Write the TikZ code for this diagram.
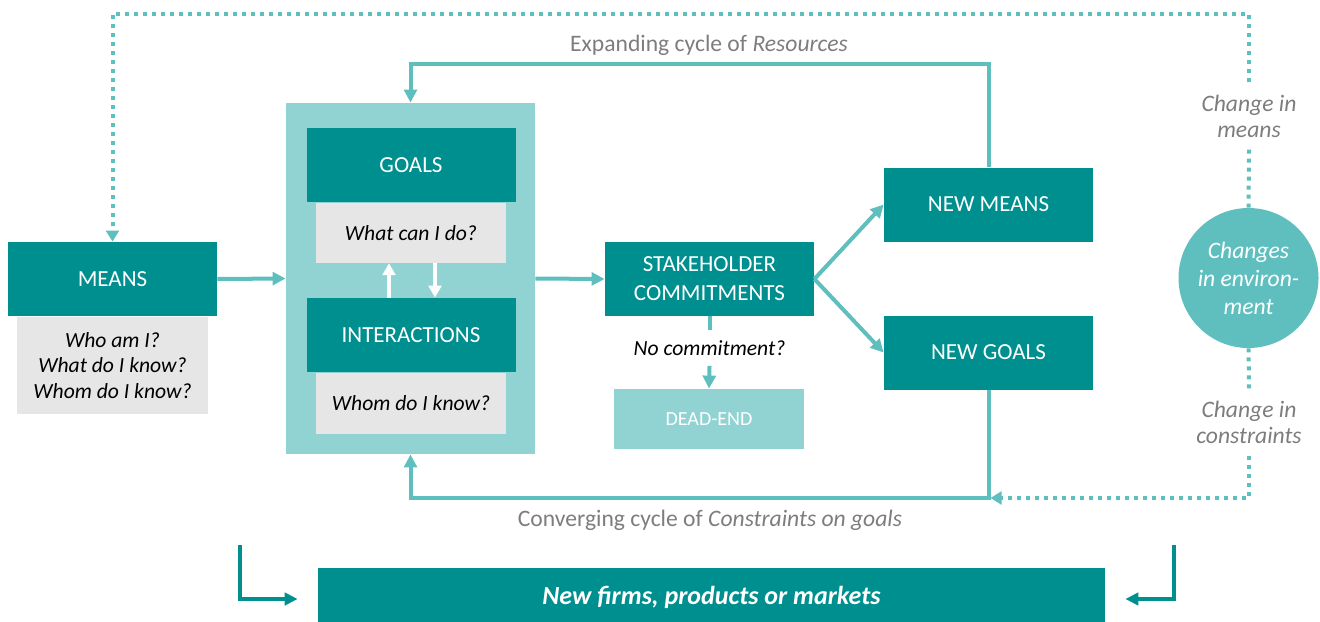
\documentclass[tikz,border=0pt]{standalone}
\usepackage{fontspec}
\setmainfont{Carlito}
\usepackage{xcolor}
\usetikzlibrary{arrows.meta,positioning}

\definecolor{deepteal}{RGB}{0,143,143}
\definecolor{midteal}{RGB}{95,191,191}
\definecolor{paleteal}{RGB}{145,211,211}
\definecolor{boxgrey}{RGB}{230,230,230}
\definecolor{labelgrey}{RGB}{125,125,125}

\tikzset{
  stage/.style={fill=deepteal,text=white,minimum width=104.5pt,minimum height=37pt,
    align=center,font=\fontsize{11.5}{14.5}\selectfont},
  query/.style={fill=boxgrey,text=black,minimum width=95pt,minimum height=30pt,
    align=center,font=\fontsize{10.8}{12.75}\selectfont\itshape},
  remark/.style={text=labelgrey,align=center,font=\fontsize{11.8}{13}\selectfont\itshape},
  flow/.style={draw=midteal,line width=2pt,-{Triangle[length=6.5pt,width=6.4pt]}},
  drift/.style={draw=midteal,line width=2pt,dash pattern=on 2pt off 2.5pt},
  spur/.style={draw=deepteal,line width=2pt,-{Triangle[length=6.5pt,width=6.2pt]}},
  swap/.style={draw=white,line width=1.6pt,-{Triangle[length=6pt,width=6.4pt]}}
}

\begin{document}
\begin{tikzpicture}[x=0.5pt,y=-0.5pt,inner sep=0pt]
\useasboundingbox (0,0) rectangle (1320,621);

% goals and interactions sit on a pale panel
\node[fill=paleteal,minimum width=124.5pt,minimum height=175.5pt] (frame) at (410.5,278.5) {};
\node[stage] (goals) at (411,165) {GOALS};
\node[query] (goalsq) [below=0pt of goals] {What can I do?};
\node[stage] (inter) at (411,335) {INTERACTIONS};
\node[query,minimum height=30.5pt] (interq) [below=0pt of inter] {Whom do I know?};
\draw[swap] ([xshift=-11pt]inter.north) -- ([xshift=-11pt]goalsq.south);
\draw[swap] ([xshift=12pt]goalsq.south) -- ([xshift=12pt]inter.north);

\node[stage] (means) at (112.5,279) {MEANS};
\node[query,minimum width=95.5pt,minimum height=48.5pt] (meansq) [below=0pt of means]
  {Who am I?\\What do I know?\\Whom do I know?};

\node[stage] (stake) at (709.5,279) {STAKEHOLDER\\COMMITMENTS};
\node[font=\fontsize{10.8}{12.75}\selectfont\itshape,inner ysep=5pt] (nocom) at (709.5,348) {No commitment?};
\node[fill=paleteal,text=white,minimum width=95pt,minimum height=30pt,
  font=\fontsize{10}{12}\selectfont] (dead) at (709,419) {DEAD-END};

\node[stage] (newmeans) at (988.5,204.5) {NEW MEANS};
\node[stage] (newgoals) at (988.5,352.5) {NEW GOALS};

\node[circle,fill=midteal,text=white,minimum size=70pt,align=center,
  font=\fontsize{11.8}{14}\selectfont\itshape] (env) at (1248.5,278) {Changes\\in environ-\\ment};
\node[remark,inner ysep=6pt] (chmeans) at (1249,116) {Change in\\means};
\node[remark,inner ysep=6pt] (chcons) at (1249,422) {Change in\\constraints};

% bottom bar runs off the lower edge
\node[fill=deepteal,text=white,minimum width=393.5pt,minimum height=29pt,
  font=\fontsize{13}{15}\selectfont\bfseries\itshape] (result) at (711.5,597) {New firms, products or markets};

\node[remark,font=\fontsize{11.8}{13}\selectfont] (expand) at (709,45) {Expanding cycle of \textit{Resources}};
\node[remark,font=\fontsize{11.8}{13}\selectfont] (converge) at (710,520) {Converging cycle of \textit{Constraints on goals}};

% main flow
\draw[flow] (means.east) -- (frame.west);
\draw[flow] (frame.east) -- (stake.west);
\draw[flow] (stake.east) -- (newmeans.west);
\draw[flow] (stake.east) -- (newgoals.west);
\draw[draw=midteal,line width=2pt] (stake.south) -- (nocom.north);
\draw[flow] (nocom.south) -- (dead.north);

% the two cycles
\coordinate (lowturn) at (988.5,498);
\draw[flow] (newmeans.north) -- ++(0,-103) -| (frame.north);
\draw[flow] (newgoals.south) -- (lowturn) -| (frame.south);

% environment
\coordinate (topright) at (1249,14);
\coordinate (topleft) at (112.5,14);
\draw[drift] (env.north) -- (chmeans.south);
\draw[drift,-{Triangle[length=5.5pt,width=6.4pt]}] (chmeans.north) -- (topright) -- (topleft) -- (means.north);
\draw[drift] (env.south) -- (chcons.north);
\draw[drift,-{Triangle[length=5.5pt,width=6.4pt]},shorten >=1pt] (chcons.south) |- (lowturn);

% outcomes
\coordinate (lkink) at (240,545);
\coordinate (rkink) at (1174,545);
\draw[spur] (lkink) |- ([xshift=-10pt,yshift=-1pt]result.west);
\draw[spur] (rkink) |- ([xshift=10pt,yshift=-1pt]result.east);
\end{tikzpicture}
\end{document}
